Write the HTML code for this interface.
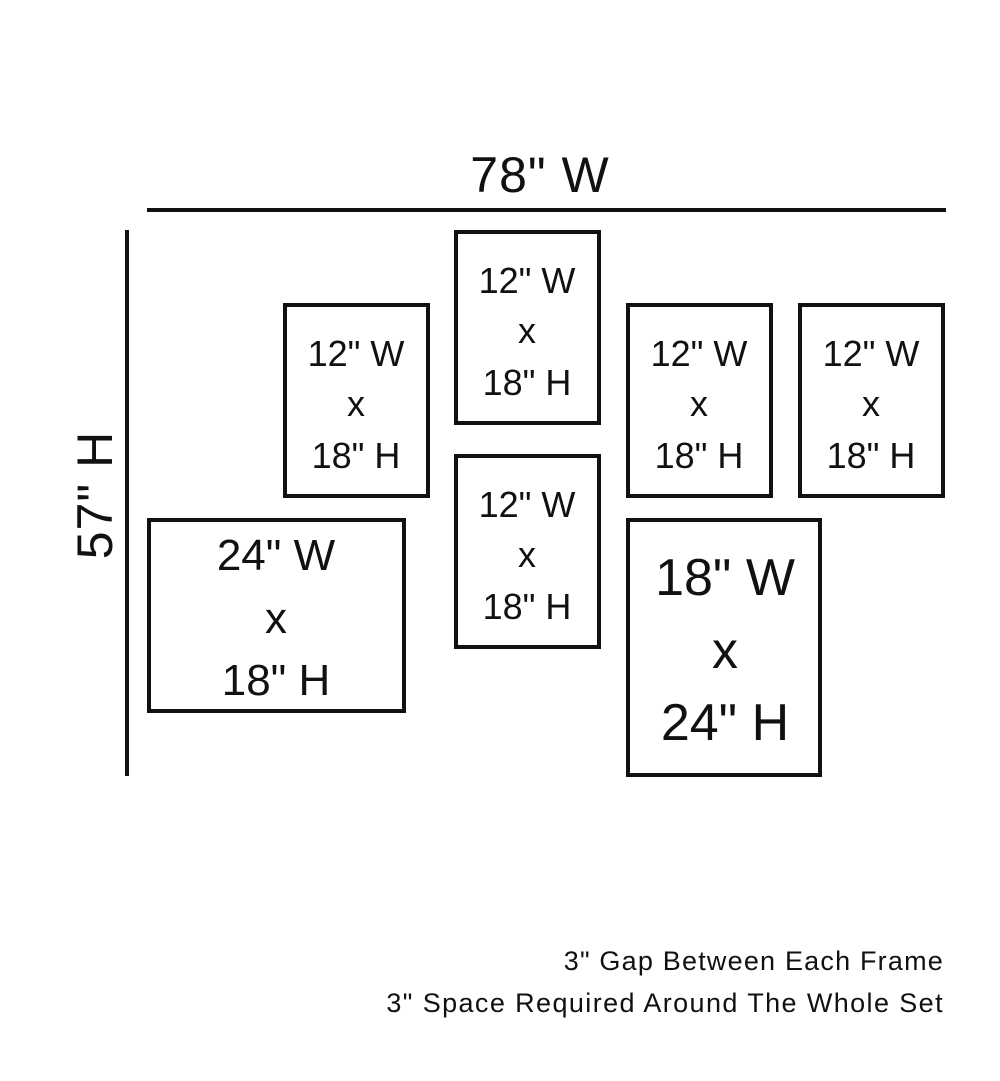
<!DOCTYPE html>
<html><head><style>body{margin:0;background:#fff}svg{display:block}text{font-family:"Liberation Sans",sans-serif;fill:#111;text-anchor:middle}</style></head><body>
<svg width="1000" height="1081" viewBox="0 0 1000 1081">
<g stroke="#111" stroke-width="4" fill="none">
<line x1="147" y1="210" x2="946" y2="210"/>
<line x1="127" y1="230" x2="127" y2="776"/>
<rect x="285" y="305" width="143" height="191"/>
<rect x="456" y="232" width="143" height="191"/>
<rect x="628" y="305" width="143" height="191"/>
<rect x="800" y="305" width="143" height="191"/>
<rect x="456" y="456" width="143" height="191"/>
<rect x="149" y="520" width="255" height="191"/>
<rect x="628" y="520" width="192" height="255"/>
</g>
<text x="540" y="192" font-size="50" letter-spacing="1">78" W</text>
<text transform="translate(112,495) rotate(-90)" font-size="50" letter-spacing="1">57" H</text>
<g font-size="36">
<text x="356" y="366">12" W</text><text x="356" y="416">x</text><text x="356" y="468">18" H</text>
<text x="527" y="293">12" W</text><text x="527" y="343">x</text><text x="527" y="395">18" H</text>
<text x="699" y="366">12" W</text><text x="699" y="416">x</text><text x="699" y="468">18" H</text>
<text x="871" y="366">12" W</text><text x="871" y="416">x</text><text x="871" y="468">18" H</text>
<text x="527" y="517">12" W</text><text x="527" y="567">x</text><text x="527" y="619">18" H</text>
</g>
<g font-size="44">
<text x="276" y="570">24" W</text><text x="276" y="633">x</text><text x="276" y="695">18" H</text>
</g>
<g font-size="52">
<text x="725" y="595">18" W</text><text x="725" y="668">x</text><text x="725" y="740">24" H</text>
</g>
<g font-size="27">
<text x="944" y="970" style="text-anchor:end" letter-spacing="1.2">3" Gap Between Each Frame</text>
<text x="944" y="1012" style="text-anchor:end" letter-spacing="1.4">3" Space Required Around The Whole Set</text>
</g>
</svg>
</body></html>
